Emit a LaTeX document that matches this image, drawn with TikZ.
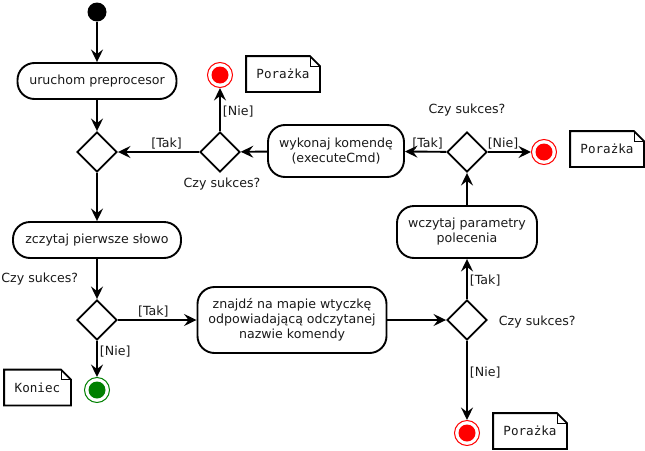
\documentclass[tikz,border=0pt]{standalone}
\usepackage{fontspec}
\setmainfont{DejaVu Sans}
\setmonofont{DejaVu Sans Mono}
\usepackage{tikz}
\usetikzlibrary{calc, arrows.meta, shapes.geometric}

\newcommand{\zagiecie}[1]{%
    \draw (#1.north west) -- ($(#1.north east)+(-10,0)$) -- ($(#1.north east)+(0,10)$) -- (#1.south east) -- (#1.south west) -- cycle;
    \draw[line width=0.8pt] ($(#1.north east)+(-10,0)$) |- ($(#1.north east)+(0,10)$);}

\begin{document}
\begin{tikzpicture}[x=1pt, y=-1pt, line width=1.9pt, >={Stealth[length=12.5pt, width=12pt, inset=4.5pt]},
    every node/.style={font=\fontsize{12.6}{15}\selectfont, text=black!90},
    akcja/.style={draw, rounded corners=17pt, align=center, inner sep=0pt},
    decyzja/.style={draw, diamond, minimum size=40pt, inner sep=0pt},
    koniec/.style={draw=#1, circle, line width=1pt, minimum size=25pt, inner sep=0pt,
        path picture={\fill[#1] (path picture bounding box.center) circle (8.5pt);}},
    notatka/.style={minimum width=72pt, minimum height=34pt, inner sep=0pt, font=\fontsize{12.6}{15}\ttfamily},
    etykieta/.style={inner sep=2pt}]
    \useasboundingbox (0,0) rectangle (645,450);

    \node[fill, circle, minimum size=19pt, inner sep=0pt] (start) at (97,12) {};
    \node[akcja, minimum width=159pt, minimum height=36pt] (uruchom) at (97,81) {uruchom preprocesor};
    \node[decyzja] (d1) at (97,152) {};
    \node[akcja, minimum width=168pt, minimum height=36pt] (zczytaj) at (97,240) {zczytaj pierwsze słowo};
    \node[decyzja] (d2) at (97,320) {};
    \node[koniec=green!50!black] (kon) at (97,390) {};
    \node[notatka, minimum width=65pt] (nKon) at (37.5,387.5) {Koniec};
    \zagiecie{nKon}

    \node[akcja, minimum width=189pt, minimum height=66pt] (znajdz) at (292,320) {znajdź na mapie wtyczkę\\odpowiadającą odczytanej\\nazwie komendy};
    \node[decyzja] (d3) at (467,320) {};
    \node[koniec=red] (kon3) at (467,433) {};
    \node[notatka] (nPor3) at (530,431) {Porażka};
    \zagiecie{nPor3}

    \node[akcja, minimum width=140pt, minimum height=52pt] (wczytaj) at (467,232) {wczytaj parametry\\polecenia};
    \node[decyzja] (d4) at (467,152) {};
    \node[koniec=red] (kon4) at (544,152) {};
    \node[notatka] (nPor4) at (607,149) {Porażka};
    \zagiecie{nPor4}

    \node[akcja, minimum width=136pt, minimum height=52pt] (wykonaj) at (336,151) {wykonaj komendę\\(executeCmd)};
    \node[decyzja] (d5) at (220,152) {};
    \node[koniec=red] (kon5) at (220,75) {};
    \node[notatka] (nPor5) at (283,74) {Porażka};
    \zagiecie{nPor5}

    % etykiety decyzji
    \node[anchor=east, etykieta] at ($(d2.north)+(-16,-20)$) {Czy sukces?};
    \node[anchor=west, etykieta] at ($(d3.east)+(8,2)$) {Czy sukces?};
    \node[anchor=south, etykieta] at ($(d4.north)+(0,-12)$) {Czy sukces?};
    \node[anchor=north, etykieta] at ($(d5.south)+(2,2)$) {Czy sukces?};

    \draw[->] (start) -- (uruchom);
    \draw[->] (uruchom) -- (d1);
    \draw[->] (d1) -- (zczytaj);
    \draw[->] (zczytaj) -- (d2);
    \draw[->] (d2) -- node[above, pos=0.45, etykieta] {[Tak]} (znajdz);
    \draw[->] (d2) -- node[right, pos=0.3, etykieta] {[Nie]} (kon);
    \draw[->] (znajdz) -- (d3);
    \draw[->] (d3) -- node[right, pos=0.45, etykieta] {[Tak]} (wczytaj);
    \draw[->] (d3) -- node[right, pos=0.4, etykieta] {[Nie]} (kon3);
    \draw[->] (wczytaj) -- (d4);
    \draw[->] (d4) -- node[above, pos=0.45, etykieta] {[Tak]} (wykonaj);
    \draw[->] (d4) -- node[above, pos=0.35, etykieta] {[Nie]} (kon4);
    \draw[->] (wykonaj) -- (d5);
    \draw[->] (d5) -- node[above, pos=0.4, etykieta] {[Tak]} (d1);
    \draw[->] (d5) -- node[right, pos=0.45, etykieta] {[Nie]} (kon5);
\end{tikzpicture}
\end{document}
